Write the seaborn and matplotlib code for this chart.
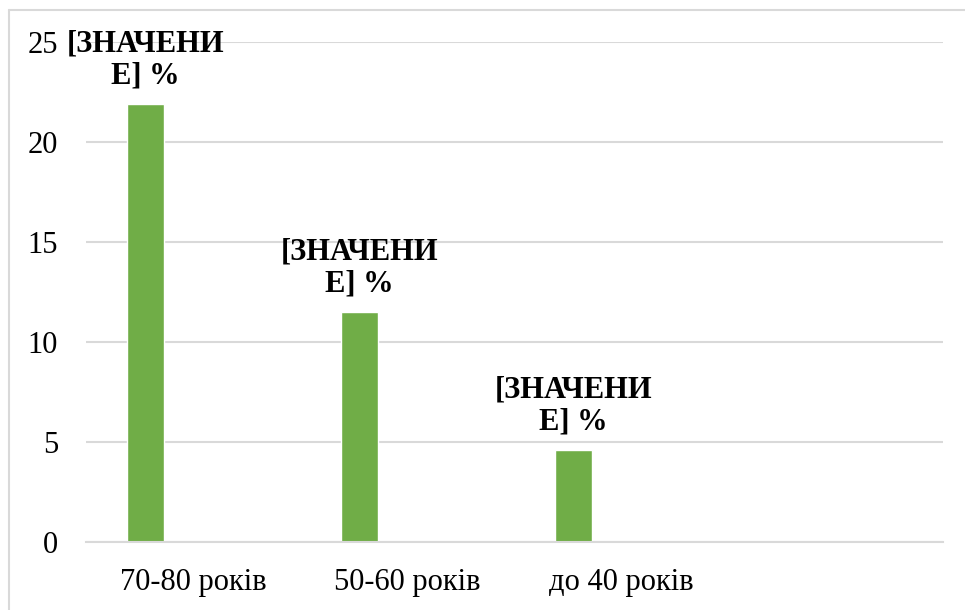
import matplotlib
matplotlib.use("Agg")
import pandas as pd
import seaborn as sns
import matplotlib.pyplot as plt
from matplotlib.lines import Line2D

# chart data
categories = ["70-80 років", "50-60 років", "до 40 років", ""]
shown = ["70-80 років", "50-60 років", "до 40 років"]
values = [21.9, 11.5, 4.6]
label_text = "[ЗНАЧЕНИ\nЕ] %"
y_ticks = [0, 5, 10, 15, 20, 25]

df = pd.DataFrame({"group": shown, "value": values})

sns.set_style("white")
plt.rcParams['font.family'] = ['Liberation Serif', 'DejaVu Serif']
plt.rcParams['text.color'] = 'black'
plt.rcParams['xtick.color'] = 'black'
plt.rcParams['ytick.color'] = 'black'

fig = plt.figure(figsize=(9.65, 6.1), dpi=100)
ax = fig.add_axes([86 / 965, 1 - 542 / 610, (943 - 86) / 965, 500 / 610])

sns.barplot(data=df, x="group", y="value", order=categories, color="#70AD47",
            width=0.173, saturation=1, ax=ax)

# bars sit left of the category centre, like the original clustered layout
for p in ax.patches:
    p.set_x(p.get_x() - 0.224)

for p, v in zip(ax.patches, values):
    ax.annotate(label_text, (p.get_x() + p.get_width() / 2, v),
                xytext=(0, 10), textcoords="offset points",
                ha="center", va="bottom", fontsize=22, fontweight="bold",
                linespacing=1.12, annotation_clip=False)

ax.set_ylim(0, 25)
ax.set_xlim(-0.5, 3.5)
ax.set_yticks(y_ticks)
ax.yaxis.grid(True, color="#d9d9d9", linewidth=1.5)
ax.set_axisbelow(True)
for s in ["top", "right", "left"]:
    ax.spines[s].set_visible(False)
ax.spines["bottom"].set_color("#d9d9d9")
ax.spines["bottom"].set_linewidth(1.5)
ax.tick_params(axis="y", length=0, pad=20, labelsize=22)
ax.tick_params(axis="x", length=0, pad=19, labelsize=22)
ax.set_xlabel("")
ax.set_ylabel("")

# outer chart border (left and top visible in the crop)
fig.add_artist(Line2D([9 / 965, 9 / 965], [0, 1 - 10 / 610], color="#d9d9d9", lw=1.5))
fig.add_artist(Line2D([9 / 965, 1], [1 - 10 / 610, 1 - 10 / 610], color="#d9d9d9", lw=1.5))

fig.savefig("out.png", dpi=100)
